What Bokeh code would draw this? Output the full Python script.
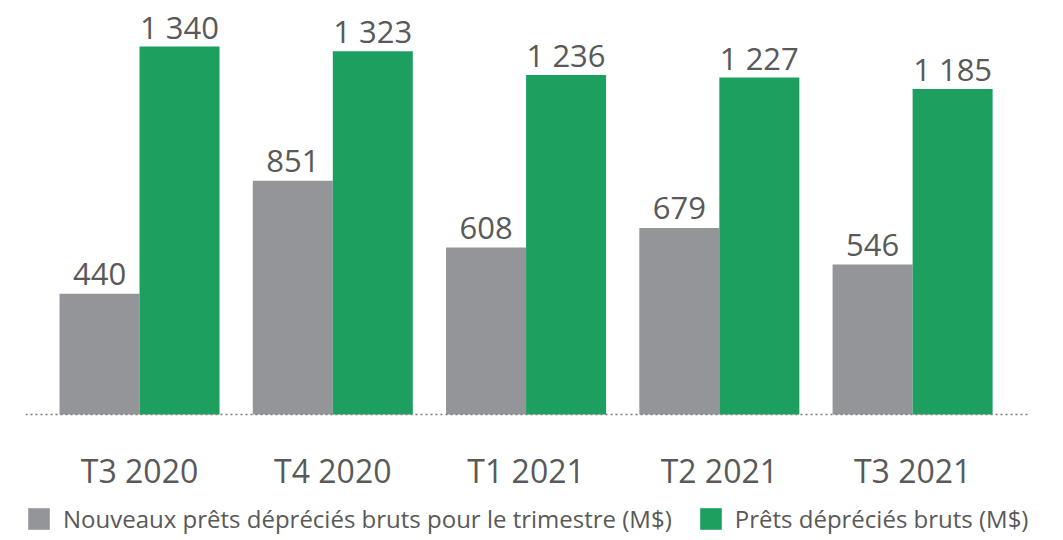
from bokeh.plotting import figure
from bokeh.models import ColumnDataSource, Span, FixedTicker, Legend, LegendItem, Range1d
from bokeh.transform import dodge
from bokeh.core.properties import value
from bokeh.embed import file_html
from bokeh.resources import INLINE

categories = ["T3 2020", "T4 2020", "T1 2021", "T2 2021", "T3 2021"]
nouveaux = [440, 851, 608, 679, 546]
bruts = [1340, 1323, 1236, 1227, 1185]
series_names = ["Nouveaux prêts dépréciés bruts pour le trimestre (M$)", "Prêts dépréciés bruts (M$)"]

GRAY = "#939598"
GREEN = "#1d9f60"
TEXT = "#595959"
FONT = "Open Sans"

def fmt(v):
    return f"{v:,}".replace(",", " ")

src = ColumnDataSource(dict(
    x=list(range(len(categories))),
    nouveaux=nouveaux,
    bruts=bruts,
    lab_n=[fmt(v) for v in nouveaux],
    lab_b=[fmt(v) for v in bruts],
))

p = figure(frame_width=1005, frame_height=527, output_backend="svg", toolbar_location=None,
           x_range=Range1d(-0.59, 4.61), y_range=Range1d(-440.6, 1478.4),
           min_border_left=25, min_border_right=25, min_border_top=8, min_border_bottom=0)
p.outline_line_color = None
p.xgrid.visible = False
p.ygrid.visible = False
p.yaxis.visible = False
p.background_fill_color = "white"
p.border_fill_color = "white"

w = 0.414
r1 = p.vbar(x=dodge("x", -w / 2, range=p.x_range), top="nouveaux", width=w, source=src,
            fill_color=GRAY, line_color=None)
r2 = p.vbar(x=dodge("x", w / 2, range=p.x_range), top="bruts", width=w, source=src,
            fill_color=GREEN, line_color=None)

p.text(x=dodge("x", -w / 2, range=p.x_range), y="nouveaux", text="lab_n", source=src,
       text_align="center", text_baseline="alphabetic", y_offset=-20,
       text_font=value(FONT), text_font_size="31px", text_color=TEXT)
p.text(x=dodge("x", w / 2, range=p.x_range), y="bruts", text="lab_b", source=src,
       text_align="center", text_baseline="alphabetic", y_offset=-20,
       text_font=value(FONT), text_font_size="31px", text_color=TEXT)

p.add_layout(Span(location=0, dimension="width", line_color="#7a7a7a", line_width=1.5,
                  line_dash="2 3"))

ax = p.xaxis[0]
ax.fixed_location = 0
ax.ticker = FixedTicker(ticks=list(range(len(categories))))
ax.major_label_overrides = {i: c for i, c in enumerate(categories)}
ax.axis_line_color = None
ax.major_tick_line_color = None
ax.minor_tick_line_color = None
ax.major_tick_out = 0
ax.major_tick_in = 0
ax.major_label_text_font = FONT
ax.major_label_text_font_size = "32px"
ax.major_label_text_color = TEXT
ax.major_label_standoff = 34

legend = Legend(items=[LegendItem(label=series_names[0], renderers=[r1]),
                       LegendItem(label=series_names[1], renderers=[r2])],
                orientation="horizontal", location="bottom_left",
                glyph_width=27, glyph_height=27, label_standoff=11, spacing=25,
                padding=0, margin=0, border_line_color=None, background_fill_alpha=0,
                label_text_font=FONT, label_text_font_size="24px", label_text_color=TEXT,
                label_height=27)
p.add_layout(legend)

open("out.html", "w").write(file_html(p, INLINE))
